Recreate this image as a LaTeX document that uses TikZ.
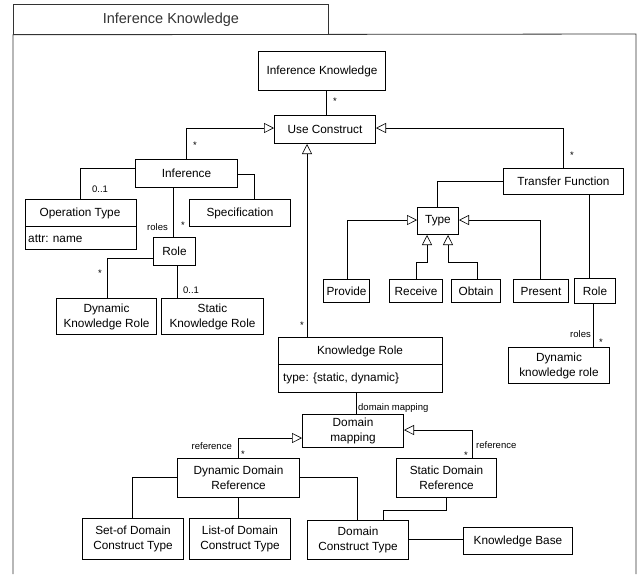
\documentclass[tikz,border=0pt]{standalone}
\usepackage{fontspec}
\setmainfont{Liberation Sans}
\usetikzlibrary{arrows.meta}
\newcommand\bxfont{\fontsize{11.8}{15}\selectfont}
\newcommand\lbfont{\fontsize{9.5}{11}\selectfont}
\newcommand\mkbox[6]{\node[umlbox, minimum width={(#4-#2)*1pt}, minimum height={(#5-#3)*1pt}] (#1) at (#2,#3) {#6};}
\tikzset{
  umlbox/.style={draw, line width=1pt, inner sep=0pt, align=center, anchor=north west, font=\bxfont},
  conn/.style={draw, line width=0.6pt},
  gen/.style={conn, -{Triangle[open, length=10pt, width=10pt, line width=0.6pt]}},
  lbl/.style={font=\lbfont, inner sep=0pt},
  frm/.style={draw, line width=0.8pt, black!80}
}
\begin{document}
\begin{tikzpicture}[x=1pt, y=-1pt]
\useasboundingbox (0,0) rectangle (639,574);
% frame
\node[frm, anchor=north west, minimum width=315pt, minimum height=30pt, inner sep=0pt, font=\fontsize{14.5}{16}\selectfont] (title) at (13,4) {Inference Knowledge};
\coordinate (fbl) at (13,574);
\coordinate (ftr) at (636,34);
\coordinate (fbr) at (636,574);
\draw[frm] (fbl) -- (title.south west) -- (ftr) -- (fbr);
% boxes
\mkbox{ik}{258}{51}{385}{90}{Inference Knowledge}
\mkbox{uc}{274}{115}{375}{143}{Use Construct}
\mkbox{inf}{135}{159}{237}{187}{Inference}
\mkbox{opt}{25}{199}{136}{249}{}
\mkbox{spec}{189}{199}{290}{226}{Specification}
\mkbox{rolea}{153}{237}{195}{265}{Role}
\mkbox{dkr}{56}{298}{156}{334}{Dynamic\\Knowledge Role}
\mkbox{skr}{161}{298}{263}{334}{Static\\Knowledge Role}
\mkbox{kr}{278}{337}{442}{392}{}
\mkbox{tf}{503}{168}{623}{194}{Transfer Function}
\mkbox{type}{417}{207}{458}{234}{Type}
\mkbox{prov}{323}{279}{369}{302}{Provide}
\mkbox{recv}{389}{279}{442}{302}{Receive}
\mkbox{obt}{451}{279}{500}{302}{Obtain}
\mkbox{pres}{513}{279}{568}{302}{Present}
\mkbox{roleb}{574}{278}{615}{303}{Role}
\mkbox{dkrb}{508}{347}{609}{383}{Dynamic\\knowledge role}
\mkbox{dm}{302}{414}{403}{447}{Domain\\mapping}
\mkbox{ddr}{177}{458}{299}{497}{Dynamic Domain\\Reference}
\mkbox{sdr}{396}{458}{496}{497}{Static Domain\\Reference}
\mkbox{setof}{82}{518}{183}{559}{Set-of Domain\\Construct Type}
\mkbox{listof}{189}{518}{290}{559}{List-of Domain\\Construct Type}
\mkbox{dct}{307}{520}{408}{559}{Domain\\Construct Type}
\mkbox{kb}{463}{527}{572}{554}{Knowledge Base}
% compartments
\coordinate (optd) at (0,226);
\draw[line width=1pt] (opt.west |- optd) -- (opt.east |- optd);
\node[font=\bxfont, inner sep=0pt] (optn) at (80,213) {Operation Type};
\node[font=\bxfont, inner sep=0pt, anchor=west] (opta) at (28,239) {attr: name};
\coordinate (krd) at (0,364);
\draw[line width=1pt] (kr.west |- krd) -- (kr.east |- krd);
\node[font=\bxfont, inner sep=0pt] (krn) at (360,351) {Knowledge Role};
\node[font=\bxfont, inner sep=0pt, anchor=west] (kra) at (283,378) {type: \{static, dynamic\}};
% connectors
\coordinate (c1) at (326,0);
\draw[conn] (ik.south -| c1) -- (uc.north -| c1);
\node[lbl] (s1) at (335,101) {*};
\coordinate (c2) at (186,128);
\draw[gen] (inf.north -| c2) -- (c2) -- (uc.west |- c2);
\node[lbl] (s2) at (195,145) {*};
\coordinate (c3) at (563,128);
\draw[gen] (tf.north -| c3) -- (c3) -- (uc.east |- c3);
\node[lbl] (s3) at (572,155) {*};
\coordinate (c4) at (307,0);
\draw[gen] (kr.north -| c4) -- (uc.south -| c4);
\node[lbl] (s4) at (302,325) {*};
\coordinate (c5) at (80,168);
\draw[conn] (inf.west |- c5) -- (c5) -- (opt.north -| c5);
\node[lbl] (l5) at (100,189) {0..1};
\coordinate (c6) at (254,174);
\draw[conn] (inf.east |- c6) -- (c6) -- (spec.north -| c6);
\coordinate (c7) at (173,0);
\draw[conn] (inf.south -| c7) -- (rolea.north -| c7);
\node[lbl, anchor=east] (l7) at (168,227) {roles};
\node[lbl] (s7) at (183,225) {*};
\coordinate (c8) at (107,258);
\draw[conn] (rolea.west |- c8) -- (c8) -- (dkr.north -| c8);
\node[lbl] (s8) at (100,273) {*};
\coordinate (c9) at (177,0);
\draw[conn] (rolea.south -| c9) -- (skr.north -| c9);
\node[lbl] (l9) at (191,290) {0..1};
\coordinate (c10) at (437,181);
\draw[conn] (tf.west |- c10) -- (c10) -- (type.north -| c10);
\coordinate (c11) at (347,220);
\draw[gen] (prov.north -| c11) -- (c11) -- (type.west |- c11);
\coordinate (c12a) at (416,262);
\coordinate (c12b) at (427,262);
\draw[gen] (recv.north -| c12a) -- (c12a) -- (c12b) -- (type.south -| c12b);
\coordinate (c13a) at (477,262);
\coordinate (c13b) at (448,262);
\draw[gen] (obt.north -| c13a) -- (c13a) -- (c13b) -- (type.south -| c13b);
\coordinate (c14) at (540,220);
\draw[gen] (pres.north -| c14) -- (c14) -- (type.east |- c14);
\coordinate (c15) at (589,0);
\draw[conn] (tf.south -| c15) -- (roleb.north -| c15);
\coordinate (c16) at (593,0);
\draw[conn] (roleb.south -| c16) -- (dkrb.north -| c16);
\node[lbl, anchor=east] (l16) at (591,334) {roles};
\node[lbl] (s16) at (601,342) {*};
\coordinate (c17) at (356,0);
\draw[conn] (kr.south -| c17) -- (dm.north -| c17);
\node[lbl, anchor=west] (l17) at (358,408) {domain mapping};
\coordinate (c18) at (238,438);
\draw[gen] (ddr.north -| c18) -- (c18) -- (dm.west |- c18);
\node[lbl, anchor=east] (l18) at (232,446) {reference};
\node[lbl] (s18) at (243,454) {*};
\coordinate (c19) at (472,430);
\draw[gen] (sdr.north -| c19) -- (c19) -- (dm.east |- c19);
\node[lbl, anchor=west] (l19) at (476,445) {reference};
\node[lbl] (s19) at (466,455) {*};
\coordinate (c20) at (132,477);
\draw[conn] (ddr.west |- c20) -- (c20) -- (setof.north -| c20);
\coordinate (c21) at (238,0);
\draw[conn] (ddr.south -| c21) -- (listof.north -| c21);
\coordinate (c22) at (357,477);
\draw[conn] (ddr.east |- c22) -- (c22) -- (dct.north -| c22);
\coordinate (c23a) at (446,510);
\coordinate (c23b) at (383,510);
\draw[conn] (sdr.south -| c23a) -- (c23a) -- (c23b) -- (dct.north -| c23b);
\coordinate (c24) at (0,539);
\draw[conn] (dct.east |- c24) -- (kb.west |- c24);
\end{tikzpicture}
\end{document}
